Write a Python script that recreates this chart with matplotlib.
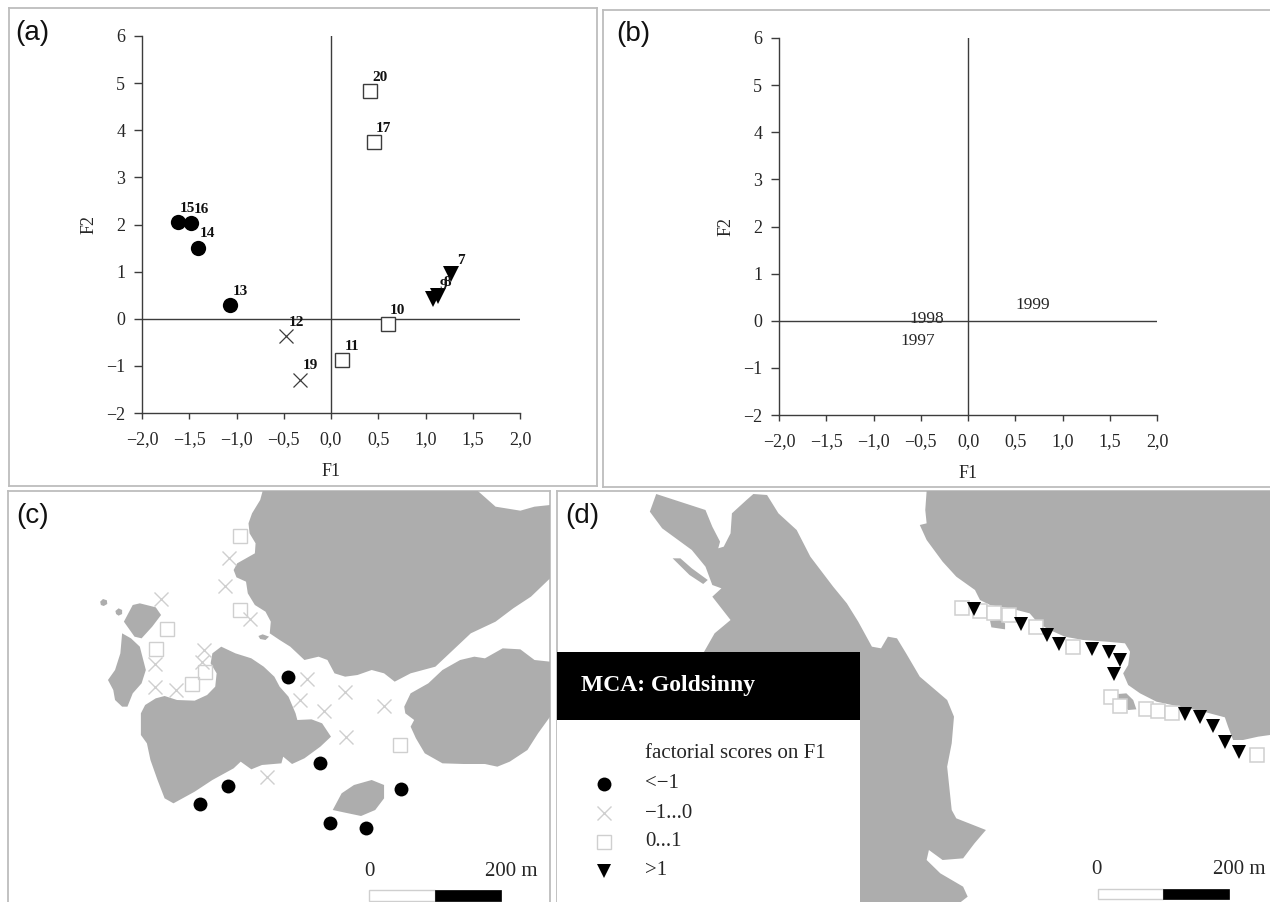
import matplotlib
matplotlib.use("Agg")
import matplotlib.pyplot as plt
from matplotlib.patches import Polygon, Rectangle

plt.rcParams['font.family'] = ['Liberation Serif', 'DejaVu Serif']

W, H = 1270, 902
LAND = '#adadad'
LIGHT = '#cfcfcf'
DARK = '#3c3c3c'
TEXT = '#262626'

# ---- panel (a): factorial scores of stations
circle_ids = ['15', '16', '14', '13']
circle_f1 = [-1.62, -1.48, -1.41, -1.065]
circle_f2 = [2.06, 2.04, 1.51, 0.30]
cross_ids = ['12', '19']
cross_f1 = [-0.476, -0.325]
cross_f2 = [-0.375, -1.29]
square_ids = ['20', '17', '10', '11']
square_f1 = [0.416, 0.45, 0.60, 0.12]
square_f2 = [4.83, 3.75, -0.11, -0.88]
tri_ids = ['7', '8', '9']
tri_f1 = [1.27, 1.13, 1.08]
tri_f2 = [0.94, 0.48, 0.41]

# ---- panel (b): years
years = ['1997', '1998', '1999']
year_f1 = [-0.53, -0.44, 0.69]
year_f2 = [-0.43, 0.04, 0.34]

x_ticks = [-2.0, -1.5, -1.0, -0.5, 0.0, 0.5, 1.0, 1.5, 2.0]
x_tick_labels = ['\u22122,0', '\u22121,5', '\u22121,0', '\u22120,5', '0,0', '0,5', '1,0', '1,5', '2,0']
y_ticks = [-2, -1, 0, 1, 2, 3, 4, 5, 6]
y_tick_labels = ['\u22122', '\u22121', '0', '1', '2', '3', '4', '5', '6']

# ---- panel (c) map
c_land_top = [(742,3),(735,30),(712,70),(702,100),(705,130),(722,160),(720,190),(695,205),(670,220),(660,240),
              (668,262),(695,275),(700,310),(720,345),(750,365),(765,395),(762,430),(790,450),(820,470),(860,510),
              (900,500),(925,510),(945,550),(975,560),(1010,555),(1050,540),(1085,550),(1115,575),(1160,550),
              (1230,530),(1290,470),(1330,430),(1400,395),(1450,355),(1500,320),(1554,265),(1554,45),(1510,50),
              (1470,62),(1400,50),(1350,3)]
c_land_right = [(1142,650),(1160,610),(1210,580),(1250,540),(1300,510),(1340,500),(1370,505),(1420,475),(1470,478),
                (1510,510),(1554,515),(1554,680),(1520,730),(1490,780),(1440,815),(1405,830),(1370,822),(1310,822),
                (1250,820),(1200,790),(1175,745),(1160,710),(1170,690),(1145,670)]
c_land_mid = [(398,670),(410,645),(440,625),(465,618),(500,630),(550,632),(585,615),(608,590),(612,550),(595,520),
              (600,490),(625,470),(665,490),(710,505),(745,530),(775,560),(790,590),(815,620),(835,670),(840,690),
              (880,688),(910,700),(935,740),(905,770),(860,805),(825,822),(800,800),(795,820),(740,825),(710,838),
              (680,815),(660,835),(600,870),(550,905),(490,940),(465,925),(445,870),(425,810),(415,760),(398,735)]
c_land_tall = [(345,430),(370,445),(395,470),(412,540),(400,580),(375,610),(360,650),(345,650),(325,630),(320,600),
               (305,570),(325,540),(340,490)]
c_land_upper = [(350,395),(375,345),(395,340),(440,352),(455,375),(430,410),(400,445),(380,440)]
c_land_south = [(940,960),(965,910),(1000,885),(1050,870),(1085,885),(1085,925),(1060,960),(1020,978),(975,968)]
c_land_blob1 = [(283,335),(291,327),(302,331),(303,342),(293,348),(285,345)]
c_land_blob2 = [(326,363),(335,355),(345,360),(345,372),(335,377),(328,372)]
c_land_blob3 = [(730,438),(742,433),(760,440),(750,450),(735,447)]
c_lands = [c_land_top, c_land_right, c_land_mid, c_land_tall, c_land_upper, c_land_south,
           c_land_blob1, c_land_blob2, c_land_blob3]
c_circle_u = [815, 905, 645, 565, 1132, 931, 1033]
c_circle_v = [560, 818, 888, 941, 897, 998, 1015]
c_cross_u = [648, 636, 454, 705, 577, 570, 437, 437, 498, 868, 847, 976, 916, 1085, 978, 753]
c_cross_v = [203, 288, 327, 388, 480, 515, 522, 590, 600, 568, 630, 606, 664, 648, 740, 860]
c_square_u = [677, 677, 472, 442, 578, 542, 1131]
c_square_v = [138, 360, 417, 478, 545, 583, 765]

# ---- panel (d) map
d_land_top = [(815,3),(812,60),(815,100),(800,105),(815,150),(850,215),(880,260),(921,300),(932,330),(954,345),
              (998,355),(1041,370),(1060,400),(1085,420),(1118,440),(1158,450),(1210,455),(1250,460),(1261,485),
              (1257,525),(1246,550),(1257,585),(1283,610),(1319,635),(1370,650),(1422,665),(1469,682),(1476,710),
              (1487,750),(1509,750),(1542,740),(1568,735),(1568,3)]
d_land_left = [(325,490),(350,430),(385,390),(345,320),(365,295),(345,285),(330,230),(300,180),(270,150),(235,115),
               (208,65),(222,12),(330,60),(345,110),(362,155),(358,175),(370,170),(385,130),(388,70),(420,30),
               (435,12),(465,15),(490,70),(530,120),(560,200),(610,290),(640,340),(665,395),(695,470),(715,475),
               (730,440),(750,445),(770,490),(800,560),(860,630),(875,680),(870,760),(860,830),(870,960),(880,985),
               (945,1020),(920,1060),(895,1105),(850,1110),(820,1080),(815,1110),(845,1150),(895,1190),(905,1220),
               (890,1236),(600,1236),(600,490)]
d_land_thin = [(258,205),(275,205),(300,235),(335,270),(325,282),(295,255)]
d_land_isle1 = [(954,392),(976,390),(987,400),(987,418),(957,412)]
d_land_isle2 = [(1235,612),(1253,610),(1268,630),(1275,658),(1257,660),(1235,630)]
d_lands = [d_land_top, d_land_left, d_land_thin, d_land_isle1, d_land_isle2]
d_tri_u = [918, 1023, 1079, 1106, 1178, 1216, 1240, 1226, 1382, 1414, 1444, 1470, 1500]
d_tri_v = [358, 402, 434, 463, 477, 485, 510, 552, 673, 680, 707, 757, 785]
d_square_u = [892, 932, 963, 995, 1055, 1137, 1219, 1240, 1296, 1322, 1352, 1540]
d_square_v = [355, 362, 368, 376, 410, 470, 620, 648, 658, 662, 668, 796]
legend_labels = ['<\u22121', '\u22121...0', '0...1', '>1']
legend_v = [882, 970, 1056, 1142]

fig = plt.figure(figsize=(W / 100, H / 100), dpi=100, facecolor='white')


def axes_px(x0, y0, x1, y1, **kw):
    return fig.add_axes([x0 / W, 1 - y1 / H, (x1 - x0) / W, (y1 - y0) / H], **kw)


def frame(x0, y0, x1, y1):
    a = axes_px(x0, y0, x1, y1)
    a.set_xticks([])
    a.set_yticks([])
    for s in a.spines.values():
        s.set_color('#bdbdbd')
        s.set_linewidth(1.3)
    a.patch.set_alpha(0)
    return a


def biplot(x0, y0, x1, y1):
    a = axes_px(x0, y0, x1, y1)
    a.set_xlim(-2, 2)
    a.set_ylim(-2, 6)
    a.patch.set_alpha(0)
    a.spines['top'].set_visible(False)
    a.spines['right'].set_visible(False)
    for s in ('left', 'bottom'):
        a.spines[s].set_color(DARK)
        a.spines[s].set_linewidth(1.0)
    a.axhline(0, color=DARK, lw=1.0)
    a.axvline(0, color=DARK, lw=1.0)
    a.set_xticks(x_ticks)
    a.set_xticklabels(x_tick_labels, fontsize=13, color=TEXT)
    a.set_yticks(y_ticks)
    a.set_yticklabels(y_tick_labels, fontsize=13, color=TEXT)
    a.tick_params(axis='x', length=4.5, width=1.0, color=DARK, pad=8.5)
    a.tick_params(axis='y', length=6, width=1.0, color=DARK, pad=6)
    a.set_xlabel('F1', fontsize=13, labelpad=11, color=TEXT)
    a.set_ylabel('F2', fontsize=13, labelpad=6, color=TEXT)
    return a


for box in [(9, 8, 597, 486), (603, 10, 1271, 487), (8, 491, 550, 903), (557, 491, 1271, 903)]:
    frame(*box)

# ---------- panel a
ax = biplot(142, 36, 520, 413)
ax.plot(circle_f1, circle_f2, 'o', color='black', ms=11, mew=0)
ax.plot(cross_f1, cross_f2, 'x', color=DARK, ms=10, mew=0.9)
ax.plot(square_f1, square_f2, 's', mfc='white', mec=DARK, ms=10, mew=1.0)
ax.plot(tri_f1, tri_f2, 'v', color='black', ms=11, mew=0)
for ids, xs, ys in [(circle_ids, circle_f1, circle_f2), (cross_ids, cross_f1, cross_f2),
                    (square_ids, square_f1, square_f2), (tri_ids, tri_f1, tri_f2)]:
    for i, x, y in zip(ids, xs, ys):
        ax.annotate(i, (x, y), xytext=(7.2, 9.8), textcoords='offset points', ha='center', va='center',
                    fontsize=11, fontweight='bold', color='#111111')

# ---------- panel b
bx = biplot(779, 38, 1157, 415)
for t, x, y in zip(years, year_f1, year_f2):
    bx.text(x, y, t, ha='center', va='center', fontsize=12.5, color=TEXT)


def map_axes(x0, x1, u0, u1):
    a = axes_px(x0, 491, x1, 902)
    a.set_xlim(u0, u1)
    a.set_ylim(1236, 3)
    a.axis('off')
    return a


def scale_bar(a, u0, um, u1, v0, v1, zero_u, label_u, label_v):
    a.add_patch(Rectangle((u0, v0), um - u0, v1 - v0, fc='white', ec=LIGHT, lw=1.0, zorder=6))
    a.add_patch(Rectangle((um, v0), u1 - um, v1 - v0, fc='black', ec='black', lw=0.5, zorder=6))
    a.text(zero_u, label_v, '0', ha='center', va='center', fontsize=15, color=TEXT, zorder=6)
    a.text(label_u, label_v, '200 m', ha='center', va='center', fontsize=15, color=TEXT, zorder=6)


# ---------- panel c
cx = map_axes(8, 550, 22.6, 1553.75)
for poly in c_lands:
    cx.add_patch(Polygon(poly, closed=True, fc=LAND, ec='none', zorder=1))
cx.plot(c_cross_u, c_cross_v, 'x', color=LIGHT, ms=10, mew=1.0, zorder=3)
cx.plot(c_square_u, c_square_v, 's', mfc='none', mec=LIGHT, ms=10, mew=1.0, zorder=3)
cx.plot(c_circle_u, c_circle_v, 'o', color='black', ms=10, mew=0, zorder=4)
scale_bar(cx, 1043, 1228, 1414, 1200, 1232, 1043, 1445, 1143)

# ---------- panel d
dx = map_axes(557, 1270, 4.4, 1568)
for poly in d_lands:
    dx.add_patch(Polygon(poly, closed=True, fc=LAND, ec='none', zorder=1))
dx.plot(d_square_u, d_square_v, 's', mfc='white', mec=LIGHT, ms=10, mew=1.1, zorder=3)
dx.plot(d_tri_u, d_tri_v, 'v', color='black', ms=10.5, mew=0, zorder=4)
dx.add_patch(Rectangle((4.4, 690), 664, 550, fc='white', ec='none', zorder=5))
dx.add_patch(Rectangle((4.4, 485), 664, 205, fc='black', ec='none', zorder=5))
dx.text(57, 585, 'MCA: Goldsinny', color='white', fontsize=17, fontweight='bold', va='center', ha='left', zorder=6)
dx.text(197, 790, 'factorial scores on F1', fontsize=15, color=TEXT, va='center', ha='left', zorder=6)
leg_styles = [dict(marker='o', color='black', ms=10, mew=0),
              dict(marker='x', color=LIGHT, ms=10, mew=1.0),
              dict(marker='s', mfc='none', mec=LIGHT, ms=10, mew=1.0),
              dict(marker='v', color='black', ms=10.5, mew=0)]
for lab, v, st in zip(legend_labels, legend_v, leg_styles):
    dx.plot([108], [v], ls='none', zorder=6, **st)
    dx.text(197, v, lab, fontsize=15, color=TEXT, va='center', ha='left', zorder=6)
scale_bar(dx, 1190, 1333, 1477, 1197, 1227, 1188, 1500, 1138)

# ---------- panel letters
for lab, px, py in [('(a)', 15, 33), ('(b)', 616, 34), ('(c)', 16, 516), ('(d)', 565, 516)]:
    fig.text(px / W, 1 - py / H, lab, fontsize=20, family='Liberation Sans', va='center', ha='left', color='#111111')

fig.savefig('out.png', dpi=100)
